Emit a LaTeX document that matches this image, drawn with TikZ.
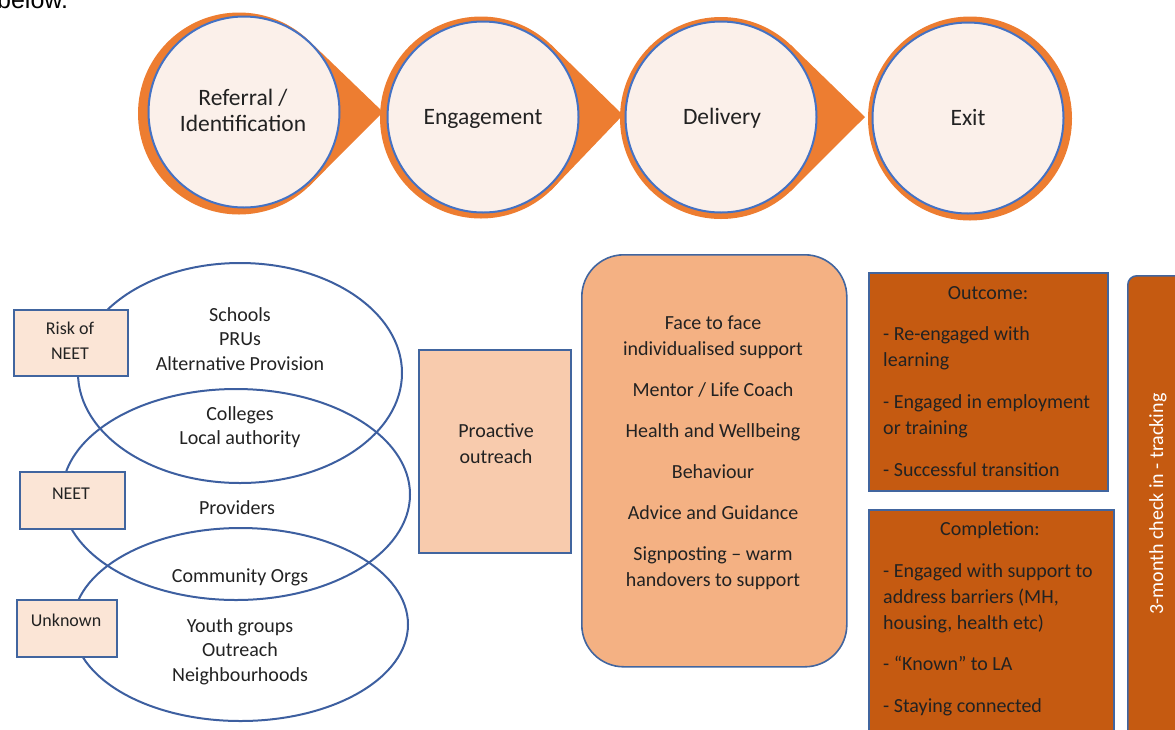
\documentclass[tikz,border=0pt]{standalone}
\usepackage{fontspec}
\setmainfont{Carlito}
\newfontfamily\arialfont{Liberation Sans}
\usetikzlibrary{shapes.geometric}

\definecolor{stageorange}{HTML}{ED7D31}
\definecolor{stageblue}{HTML}{4472C4}
\definecolor{cream}{HTML}{FBF0EA}
\definecolor{ringblue}{HTML}{3D5FA0}
\definecolor{boxblue}{HTML}{41659F}
\definecolor{peach}{HTML}{FBE5D6}
\definecolor{apricot}{HTML}{F8CBAD}
\definecolor{tan}{HTML}{F4B183}
\definecolor{rust}{HTML}{C55A11}
\definecolor{ink}{HTML}{222222}

% zero-width strut that fixes the height of the first line of a stack
\newcommand\firstln[1]{\rule{0pt}{#1}}

\begin{document}
\begin{tikzpicture}[x=1pt,y=-1pt,
  orangedisk/.style={circle, fill=stageorange, draw=none, inner sep=0, outer sep=0, minimum size=#1},
  stagecircle/.style={circle, fill=cream, draw=stageblue, line width=2pt, inner sep=0, minimum size=191pt},
  stagelabel/.style={text=ink, inner sep=0, align=center, font=\fontsize{23.5}{26}\selectfont},
  ring/.style={ellipse, draw=ringblue, line width=2pt, inner sep=0},
  tagbox/.style={rectangle, fill=peach, draw=boxblue, line width=2pt, inner sep=0, anchor=north west},
  body/.style={text=ink, inner sep=0, align=center, font=\fontsize{20}{24.5}\selectfont},
  listtext/.style={text=ink, inner sep=0, font=\fontsize{20}{26}\selectfont},
  tagtext/.style={text=ink, inner sep=0, align=center, font=\fontsize{18}{25}\selectfont},
  panel/.style={rectangle, draw=boxblue, line width=1.6pt, inner sep=0, anchor=north west},
]
\useasboundingbox (0,0) rectangle (1175,729);
\clip (0,0) rectangle (1175,729);

% running text above the figure
\node[anchor=base west, inner sep=0, text=black, font=\arialfont\fontsize{25}{30}\selectfont] (below) at (-3,8.5) {below.};

% ---- stage chevrons: orange teardrops behind cream circles ----
\node[orangedisk=202pt] (o1) at (239,113.5) {};
\coordinate (t1) at (383,112);
\fill[stageorange] (t1) -- (o1.46) -- (o1.-46) -- cycle;

\node[orangedisk=202pt] (o2) at (481,117.5) {};
\coordinate (t2) at (623,115);
\fill[stageorange] (t2) -- (o2.46) -- (o2.-46) -- cycle;

\node[orangedisk=202pt] (o3) at (721,118) {};
\coordinate (t3) at (865,117);
\fill[stageorange] (t3) -- (o3.46) -- (o3.-46) -- cycle;

\node[orangedisk=204pt] (o4) at (970,118.5) {};

\node[stagecircle] (s1) at (244,112) {};
\node[stagecircle] (s2) at (483,117) {};
\node[stagecircle] (s3) at (721,117) {};
\node[stagecircle] (s4) at (968,118) {};

\node[stagelabel, anchor=north] (l1) at (243,87) {\firstln{18pt}Referral /\\Identification};
\node[stagelabel, anchor=base] (l2) at (483,124) {Engagement};
\node[stagelabel, anchor=base] (l3) at (722,124) {Delivery};
\node[stagelabel, anchor=base] (l4) at (968,125) {Exit};

% ---- overlapping referral-source ellipses ----
\node[ring, minimum width=324pt, minimum height=220pt] (e1) at (240,373) {};
\node[ring, minimum width=348pt, minimum height=211pt] (e2) at (236,494.5) {};
\node[ring, minimum width=335pt, minimum height=193pt] (e3) at (240.5,624.5) {};

\node[body, anchor=north] (src1) at (240,305) {\firstln{16pt}Schools\\PRUs\\Alternative Provision};
\node[body, anchor=north] (src2) at (240,404) {\firstln{16pt}Colleges\\Local authority};
\node[body, anchor=base] (src3) at (237,514) {Providers};
\node[body, anchor=base] (src4) at (240,582) {Community Orgs};
\node[body, anchor=north] (src5) at (240,616) {\firstln{16pt}Youth groups\\Outreach\\Neighbourhoods};

% ---- cohort tags ----
\node[tagbox, minimum width=114pt, minimum height=66pt] (risk) at (13,309) {};
\node[tagbox, minimum width=105pt, minimum height=57pt] (neet) at (19,471) {};
\node[tagbox, minimum width=100pt, minimum height=57pt] (unknown) at (16,599) {};
\node[tagtext, anchor=north] (risktext) at (70,319) {\firstln{15pt}Risk of\\NEET};
\node[tagtext, anchor=base] (neettext) at (71,499.5) {NEET};
\node[tagtext, anchor=base] (unknowntext) at (66,626) {Unknown};

% ---- engagement ----
\node[panel, fill=apricot, minimum width=152pt, minimum height=203pt] (outreach) at (418,349) {};
\node[listtext, align=center, anchor=north] (outreachtext) at (496,421) {\firstln{16pt}Proactive\\outreach};

% ---- delivery ----
\node[panel, fill=tan, rounded corners=42pt, minimum width=265pt, minimum height=412pt] (delivery) at (581,254) {};
\node[listtext, align=center, anchor=north] (deliverytext) at (713,313)
  {\firstln{16pt}Face to face\\individualised support\\[15pt]Mentor / Life Coach\\[15pt]Health and Wellbeing\\[15pt]Behaviour\\[15pt]Advice and Guidance\\[15pt]Signposting – warm\\handovers to support};

% ---- exit ----
\node[panel, fill=rust, minimum width=239pt, minimum height=218pt] (outcome) at (868,272) {};
\node[listtext, anchor=base] (outcometitle) at (988,299) {Outcome:};
\node[listtext, align=left, anchor=north west] (outcomelist) at (883,324)
  {\firstln{16pt}- Re-engaged with\\learning\\[16pt]- Engaged in employment\\or training\\[16pt]- Successful transition};

\node[panel, fill=rust, minimum width=245pt, minimum height=260pt] (completion) at (868,509) {};
\node[listtext, anchor=base] (completiontitle) at (990,535) {Completion:};
\node[listtext, align=left, anchor=north west] (completionlist) at (883,561)
  {\firstln{16pt}- Engaged with support to\\address barriers (MH,\\housing, health etc)\\[15pt]- “Known” to LA\\[16pt]- Staying connected};

% ---- follow-up bar ----
\node[panel, fill=rust, rounded corners=9pt, minimum width=80pt, minimum height=500pt] (tracking) at (1127,275) {};
\node[listtext, text=white, rotate=90] (trackingtext) at (1158,504) {3-month check in - tracking};

\end{tikzpicture}
\end{document}
